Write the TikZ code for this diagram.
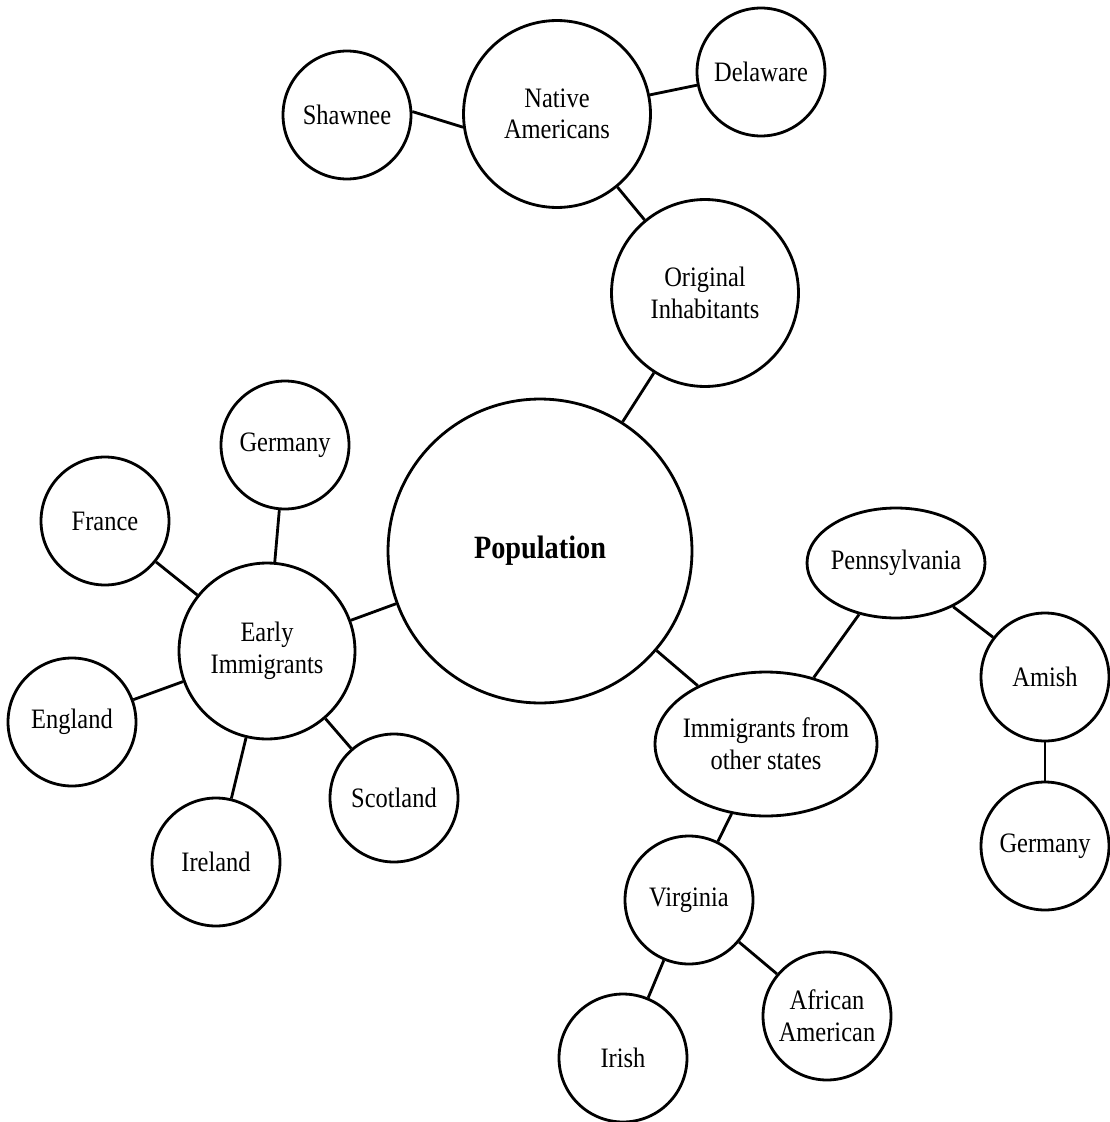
\documentclass[tikz,border=0pt]{standalone}
\usepackage{fontspec}
\setmainfont{Liberation Serif}[FakeStretch=0.87]
\usepackage{tikz}
\usetikzlibrary{shapes.geometric}

\begin{document}
\begin{tikzpicture}[
    x=0.02cm,
    y=-0.02cm,
    font=\fontsize{16}{18}\selectfont,
    bubble/.style={
        circle,
        draw=black,
        line width=1.6pt,
        align=center,
        inner sep=0pt,
        minimum size=2.56cm
    },
    big/.style={
        bubble,
        minimum size=3.74cm
    },
    oval/.style={
        ellipse,
        draw=black,
        line width=1.6pt,
        align=center,
        inner xsep=-0.6cm
    },
    link/.style={
        -,
        line width=1.6pt,
        color=black
    }
]
\useasboundingbox (0,0) rectangle (1109,1122);

% Nodes
\node[bubble, minimum size=6.08cm, font=\fontsize{18.5}{20}\selectfont\bfseries] (pop) at (540,551) {Population};
\node[big] (orig) at (705,293) {Original\\Inhabitants};
\node[big] (native) at (557,114) {Native\\Americans};
\node[bubble] (shawnee) at (347,115) {Shawnee};
\node[bubble] (delaware) at (761,72) {Delaware};
\node[big, minimum size=3.52cm] (early) at (267,651) {Early\\Immigrants};
\node[bubble] (germanyA) at (285,445) {Germany};
\node[bubble] (france) at (105,521) {France};
\node[bubble] (england) at (72,722) {England};
\node[bubble] (ireland) at (216,862) {Ireland};
\node[bubble] (scotland) at (394,798) {Scotland};
\node[oval, minimum width=4.44cm, minimum height=2.88cm] (other) at (766,744) {Immigrants from\\other states};
\node[oval, minimum width=3.56cm, minimum height=2.2cm] (penn) at (896,563) {Pennsylvania};
\node[bubble] (amish) at (1045,677) {Amish};
\node[bubble] (germanyB) at (1045,846) {Germany};
\node[bubble] (virginia) at (689,900) {Virginia};
\node[bubble] (irish) at (623,1058) {Irish};
\node[bubble] (african) at (827,1016) {African\\American};

% Links
\draw[link] (pop) -- (orig);
\draw[link] (orig) -- (native);
\draw[link] (shawnee.3) -- (native.188);
\draw[link] (native) -- (delaware);
\draw[link] (pop) -- (early);
\draw[link] (early) -- (germanyA);
\draw[link] (early) -- (france);
\draw[link] (early) -- (england);
\draw[link] (early) -- (ireland);
\draw[link] (early) -- (scotland);
\draw[link] (pop) -- (other);
\draw[link] (other) -- (penn);
\draw[link] (penn) -- (amish);
\draw[link] (amish) -- (germanyB);
\draw[link] (other) -- (virginia);
\draw[link] (virginia) -- (irish);
\draw[link] (virginia) -- (african);

\end{tikzpicture}
\end{document}
